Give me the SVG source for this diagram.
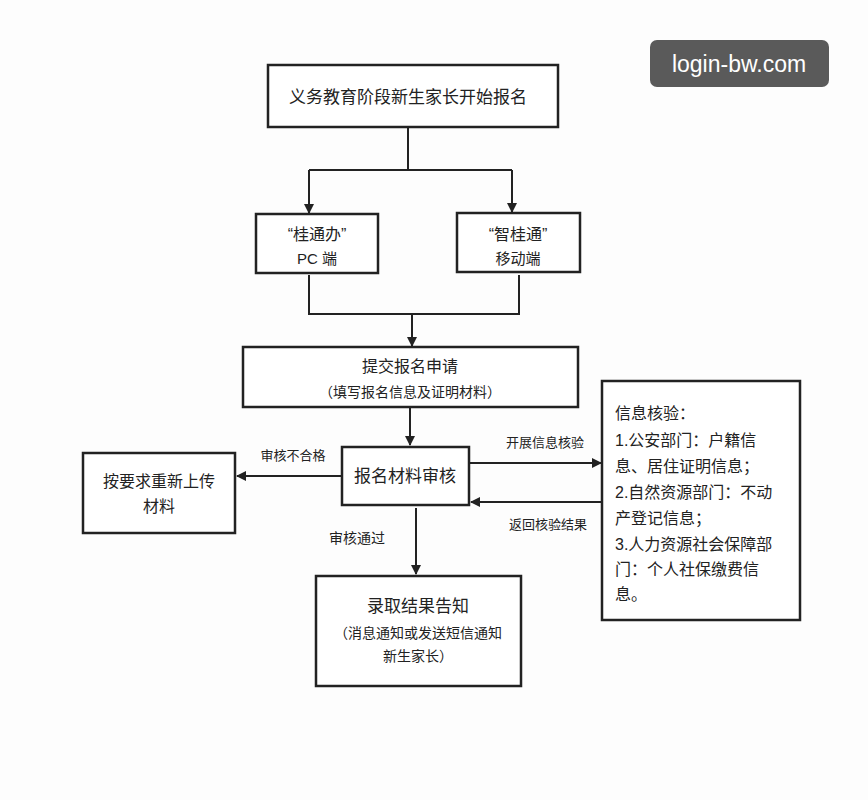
<svg xmlns="http://www.w3.org/2000/svg" width="868" height="800" viewBox="0 0 868 800">
<style>
.b{fill:#fff;stroke:#222;stroke-width:2.5}
.t{font-family:"Liberation Sans","Noto Sans CJK SC",sans-serif;fill:#222;text-anchor:middle}
.l{fill:none;stroke:#222;stroke-width:2}
</style>
<defs><marker id="a" markerWidth="10" markerHeight="10" refX="9" refY="5" orient="auto" markerUnits="userSpaceOnUse"><path d="M0,0L10,5L0,10z" fill="#222"/></marker></defs>
<rect width="868" height="800" fill="#fdfdfd"/>
<g id="connectors">
<path class="l" d="M408,127V170M309,170H512"/>
<path class="l" marker-end="url(#a)" d="M309,170V213"/>
<path class="l" marker-end="url(#a)" d="M512,170V212"/>
<path class="l" d="M309,275V314H519V275"/>
<path class="l" marker-end="url(#a)" d="M412,314V346"/>
<path class="l" marker-end="url(#a)" d="M410,407V445"/>
<path class="l" marker-end="url(#a)" d="M342,476H237"/>
<path class="l" marker-end="url(#a)" d="M469,463H601"/>
<path class="l" marker-end="url(#a)" d="M602,502H471"/>
<path class="l" marker-end="url(#a)" d="M416,508V574"/>
<text class="t" x="293" y="460" font-size="13">审核不合格</text>
<text class="t" x="545" y="447" font-size="13">开展信息核验</text>
<text class="t" x="548" y="529" font-size="13">返回核验结果</text>
<text class="t" x="357" y="543" font-size="14">审核通过</text>
</g>
<g id="start"><rect class="b" x="268" y="65" width="290" height="62"/><text class="t" x="408" y="103" font-size="17">义务教育阶段新生家长开始报名</text></g>
<g id="pc"><rect class="b" x="256" y="214" width="122" height="59"/><text class="t" x="317" y="240" font-size="16">“桂通办”</text><text class="t" x="317" y="264" font-size="15">PC 端</text></g>
<g id="mobile"><rect class="b" x="457" y="213" width="123" height="59"/><text class="t" x="518" y="240" font-size="16">“智桂通”</text><text class="t" x="518" y="264" font-size="15">移动端</text></g>
<g id="submit"><rect class="b" x="243" y="347" width="335" height="60"/><text class="t" x="410" y="372" font-size="16">提交报名申请</text><text class="t" x="410" y="397" font-size="14">（填写报名信息及证明材料）</text></g>
<g id="review"><rect class="b" x="342" y="447" width="127" height="58"/><text class="t" x="405" y="482" font-size="17">报名材料审核</text></g>
<g id="reupload"><rect class="b" x="83" y="453" width="152" height="80"/><text class="t" x="159" y="487" font-size="16">按要求重新上传</text><text class="t" x="159" y="512" font-size="16">材料</text></g>
<g id="verify"><rect class="b" x="602" y="381" width="198" height="239"/>
<g class="t" font-size="16" style="text-anchor:start"><text x="615" y="419">信息核验：</text><text x="615" y="446">1.公安部门：户籍信</text><text x="615" y="472">息、居住证明信息；</text><text x="615" y="498">2.自然资源部门：不动</text><text x="615" y="524">产登记信息；</text><text x="615" y="550">3.人力资源社会保障部</text><text x="615" y="575">门：个人社保缴费信</text><text x="615" y="600">息。</text></g></g>
<g id="result"><rect class="b" x="316" y="576" width="205" height="110"/><text class="t" x="418" y="612" font-size="17">录取结果告知</text><text class="t" x="418" y="638" font-size="14">（消息通知或发送短信通知</text><text class="t" x="418" y="661" font-size="14">新生家长）</text></g>
<g id="watermark"><rect x="650" y="40" width="179" height="47" rx="7" fill="#5a5a5a"/><text x="739" y="72" font-size="23" font-family="Liberation Sans,sans-serif" fill="#fff" text-anchor="middle">login-bw.com</text></g>
</svg>
